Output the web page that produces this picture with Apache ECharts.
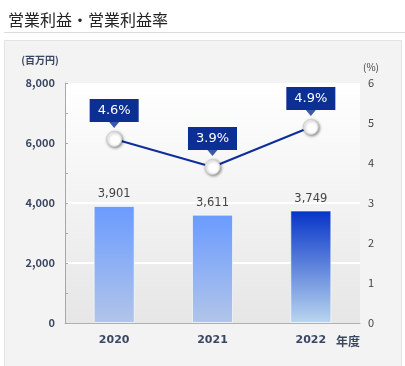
<!DOCTYPE html>
<html><head><meta charset="utf-8">
<script src="https://cdn.jsdelivr.net/npm/echarts@6/dist/echarts.min.js"></script>
<style>html,body{margin:0;padding:0;background:#fff}#c{width:405px;height:366px}</style>
</head><body><div id="c"></div>
<script>
const categories = ['2020', '2021', '2022'];
const operatingProfit = [3901, 3611, 3749];
const operatingMargin = [4.6, 3.9, 4.9];
const leftTicks = { min: 0, max: 8000, interval: 2000 };
const rightTicks = { min: 0, max: 6, interval: 1 };

const FONT = '"Noto Sans CJK JP", "Noto Sans", sans-serif';
const NUMFONT = '"DejaVu Sans", Verdana, sans-serif';
const NAVY = '#0b2f93';
const chart = echarts.init(document.getElementById('c'), null, { renderer: 'canvas' });

function grad(top, bottom) {
  return new echarts.graphic.LinearGradient(0, 0, 0, 1, [
    { offset: 0, color: top }, { offset: 1, color: bottom }
  ]);
}

chart.setOption({
  animation: false,
  backgroundColor: '#ffffff',
  textStyle: { fontFamily: FONT },
  graphic: [
    { type: 'rect', z: -20, shape: { x: 4.5, y: 40.5, width: 397, height: 330 },
      style: { fill: '#f3f3f3', stroke: '#e4e4e4', lineWidth: 1 } },
    { type: 'line', z: -20, shape: { x1: 4, y1: 32.5, x2: 405, y2: 32.5 },
      style: { stroke: '#dcdcdc', lineWidth: 1 } },
    { type: 'text', z: 10, x: 8, y: 20,
      style: { text: '営業利益・営業利益率', font: '16px ' + FONT, fill: '#222', textVerticalAlign: 'middle' } },
    { type: 'text', z: 10, x: 40, y: 60,
      style: { text: '(百万円)', font: 'bold 10px ' + FONT, fill: '#3b4660', textAlign: 'center', textVerticalAlign: 'middle' } },
    { type: 'text', z: 10, x: 371, y: 67,
      style: { text: '(%)', font: '10px ' + FONT, fill: '#444', textAlign: 'center', textVerticalAlign: 'middle' } },
    { type: 'text', z: 10, x: 348, y: 341,
      style: { text: '年度', font: 'bold 12px ' + FONT, fill: '#3b4660', textAlign: 'center', textVerticalAlign: 'middle' } }
  ],
  grid: {
    left: 65, right: 45, top: 83, bottom: 43, show: true, borderWidth: 0,
    backgroundColor: grad('#ffffff', '#e6e6e6')
  },
  xAxis: {
    type: 'category', data: categories,
    axisLine: { lineStyle: { color: '#b0b0b0', width: 1 } },
    axisTick: { show: false },
    axisLabel: { margin: 12, fontSize: 11, fontWeight: 'bold', color: '#3b4660', fontFamily: NUMFONT }
  },
  yAxis: [
    {
      type: 'value', min: leftTicks.min, max: leftTicks.max, interval: leftTicks.interval,
      axisLine: { show: true, lineStyle: { color: '#a8a8a8' } },
      axisTick: { show: true, inside: true, length: 3, lineStyle: { color: '#a8a8a8' } },
      minorTick: { show: true, splitNumber: 2, length: 3, lineStyle: { color: '#a8a8a8' } },
      axisLabel: { margin: 10, fontSize: 11, fontWeight: 'bold', color: '#3b4660', fontFamily: FONT,
        formatter: v => v.toLocaleString('en-US') },
      splitLine: { show: true, lineStyle: { color: ['rgba(0,0,0,0)', '#ffffff', '#ffffff', 'rgba(0,0,0,0)', 'rgba(0,0,0,0)'], width: 2 } }
    },
    {
      type: 'value', min: rightTicks.min, max: rightTicks.max, interval: rightTicks.interval,
      axisLine: { show: false }, axisTick: { show: false },
      axisLabel: { margin: 8, fontSize: 11, color: '#444', fontFamily: FONT },
      splitLine: { show: false }
    }
  ],
  series: [
    {
      type: 'bar', data: operatingProfit, barWidth: 41, yAxisIndex: 0,
      itemStyle: {
        borderColor: 'rgba(255,255,255,0.6)', borderWidth: 1,
        color: p => p.dataIndex === operatingProfit.length - 1
          ? grad('#0533c9', '#bad6ef') : grad('#6a9bff', '#b2c5e9')
      },
      label: { show: true, position: 'top', distance: 6, fontSize: 11.5, color: '#444', fontFamily: NUMFONT,
        formatter: p => p.value.toLocaleString('en-US') }
    },
    {
      type: 'line', data: operatingMargin, yAxisIndex: 1, z: 5,
      lineStyle: { color: '#0d2d9c', width: 2 },
      symbol: 'circle', symbolSize: 15,
      itemStyle: { color: '#ffffff', borderColor: '#d0d0d0', borderWidth: 1,
        shadowBlur: 3, shadowColor: 'rgba(0,0,0,0.45)', shadowOffsetX: 1, shadowOffsetY: 1 },
      label: { show: true, position: 'top', distance: 9, fontSize: 13, color: '#ffffff', fontFamily: NUMFONT,
        lineHeight: 15, backgroundColor: NAVY, padding: [4, 8, 4, 8], formatter: p => p.value.toFixed(1) + '%' }
    },
    {
      type: 'scatter', data: operatingMargin, yAxisIndex: 1, z: 6, silent: true,
      symbol: 'path://M0,0 L10,0 L5,6 Z', symbolSize: [10, 6], symbolOffset: [0, -14],
      itemStyle: { color: NAVY }
    }
  ]
});
</script></body></html>
